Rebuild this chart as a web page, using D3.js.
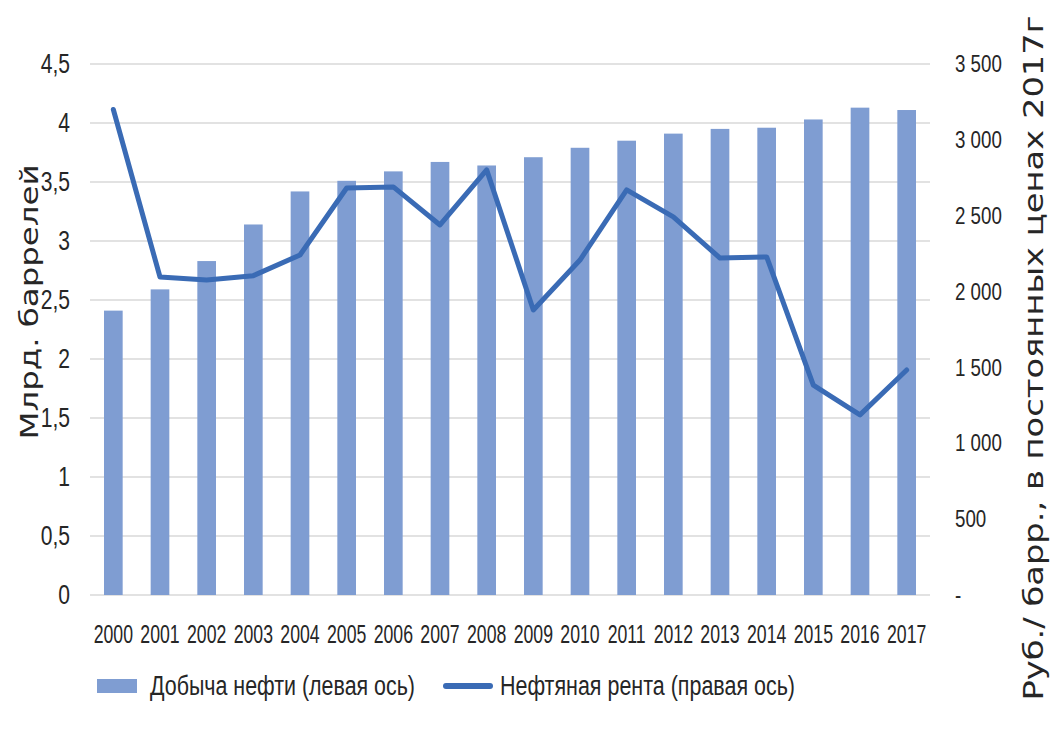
<!DOCTYPE html>
<html>
<head>
<meta charset="utf-8">
<script src="https://cdn.jsdelivr.net/npm/d3@7"></script>
<style>
  body { margin: 0; background: #fff; }
  svg { display: block; }
  text { font-family: "Liberation Sans Narrow", "Liberation Sans", Arial, sans-serif; fill: #262626; }
</style>
</head>
<body>
<svg id="chart" width="1055" height="729"></svg>
<script>
const years = ["2000","2001","2002","2003","2004","2005","2006","2007","2008","2009","2010","2011","2012","2013","2014","2015","2016","2017"];
const production = [2.41, 2.59, 2.83, 3.14, 3.42, 3.51, 3.59, 3.67, 3.64, 3.71, 3.79, 3.85, 3.91, 3.95, 3.96, 4.03, 4.13, 4.11];
const rent = [3200, 2096, 2076, 2105, 2241, 2683, 2690, 2439, 2802, 1879, 2208, 2670, 2492, 2221, 2228, 1384, 1187, 1483];
const leftTicks = [0, 0.5, 1, 1.5, 2, 2.5, 3, 3.5, 4, 4.5];
const rightTicks = [0, 500, 1000, 1500, 2000, 2500, 3000, 3500];
const seriesNames = ["Добыча нефти (левая ось)", "Нефтяная рента (правая ось)"];
const leftTitle = "Млрд. баррелей";
const rightTitle = "Руб./ барр., в постоянных ценах 2017г";

const barColor = "#7f9dd2";
const lineColor = "#3a6bb5";

const svg = d3.select("#chart");
const m = { left: 90, right: 930, top: 64, bottom: 595 };

const x = d3.scaleBand().domain(years).range([m.left, m.right]).paddingInner(0.6).paddingOuter(0.3);
const yL = d3.scaleLinear().domain([0, 4.5]).range([m.bottom, m.top]);
const yR = d3.scaleLinear().domain([0, 3500]).range([m.bottom, m.top]);

function squeeze(sel, k) {
  sel.each(function () {
    const w = this.getComputedTextLength();
    d3.select(this).attr("textLength", w * k).attr("lengthAdjust", "spacingAndGlyphs");
  });
}
const narrow = '"Liberation Sans Narrow", "Liberation Sans", Arial, sans-serif';

// gridlines
svg.append("g").selectAll("line").data(leftTicks).join("line")
  .attr("x1", m.left).attr("x2", m.right)
  .attr("y1", d => yL(d)).attr("y2", d => yL(d))
  .attr("stroke", "#d9d9d9").attr("stroke-width", 1.5);

// left axis
const gL = svg.append("g").attr("transform", `translate(${m.left},0)`)
  .call(d3.axisLeft(yL).tickValues(leftTicks).tickSize(0).tickPadding(20)
    .tickFormat(d => String(d).replace(".", ",")));
gL.select(".domain").remove();
gL.selectAll("text").attr("font-size", 27).attr("fill", "#262626").style("font-family", narrow);
squeeze(gL.selectAll("text"), 0.78);

// right axis
const gR = svg.append("g").attr("transform", `translate(${m.right},0)`)
  .call(d3.axisRight(yR).tickValues(rightTicks).tickSize(0).tickPadding(25)
    .tickFormat(d => d === 0 ? "-" : d3.format(",")(d).replace(",", " ")));
gR.select(".domain").remove();
gR.selectAll("text").attr("font-size", 24).attr("fill", "#262626").style("font-family", narrow);
squeeze(gR.selectAll("text"), 0.78);

// x axis
const gX = svg.append("g").attr("transform", `translate(0,${m.bottom})`)
  .call(d3.axisBottom(x).tickSize(0).tickPadding(30));
gX.select(".domain").remove();
gX.selectAll("text").attr("font-size", 26).attr("fill", "#262626")
  .style("font-family", '"Liberation Sans", Arial, sans-serif')
  .attr("transform", "scale(0.68,1)");

// bars
svg.append("g").selectAll("rect").data(years).join("rect")
  .attr("x", d => x(d)).attr("width", x.bandwidth())
  .attr("y", (d, i) => yL(production[i]))
  .attr("height", (d, i) => yL(0) - yL(production[i]))
  .attr("fill", barColor);

// line
const line = d3.line().x((d, i) => x(years[i]) + x.bandwidth() / 2).y(d => yR(d));
svg.append("path").datum(rent).attr("d", line)
  .attr("fill", "none").attr("stroke", lineColor).attr("stroke-width", 5)
  .attr("stroke-linejoin", "round").attr("stroke-linecap", "round");

// axis titles
svg.append("text").attr("transform", "translate(38,302) rotate(-90)")
  .attr("text-anchor", "middle").attr("font-size", 25)
  .style("font-family", '"DejaVu Sans", sans-serif').attr("fill", "#404040")
  .attr("textLength", 275).attr("lengthAdjust", "spacingAndGlyphs")
  .text(leftTitle);
svg.append("text").attr("transform", "translate(1043,358) rotate(-90)")
  .attr("text-anchor", "middle").attr("font-size", 26)
  .style("font-family", '"DejaVu Sans", sans-serif').attr("fill", "#404040")
  .attr("textLength", 685).attr("lengthAdjust", "spacingAndGlyphs")
  .text(rightTitle);

// legend
const lg = svg.append("g");
lg.append("rect").attr("x", 97).attr("y", 679).attr("width", 40).attr("height", 14).attr("fill", barColor);
lg.append("text").attr("x", 150).attr("y", 695).attr("font-size", 27)
  .attr("textLength", 265).attr("lengthAdjust", "spacingAndGlyphs").text(seriesNames[0]);
lg.append("line").attr("x1", 446).attr("x2", 490).attr("y1", 686).attr("y2", 686)
  .attr("stroke", lineColor).attr("stroke-width", 6).attr("stroke-linecap", "round");
lg.append("text").attr("x", 500).attr("y", 695).attr("font-size", 27)
  .attr("textLength", 295).attr("lengthAdjust", "spacingAndGlyphs").text(seriesNames[1]);
</script>
</body>
</html>
